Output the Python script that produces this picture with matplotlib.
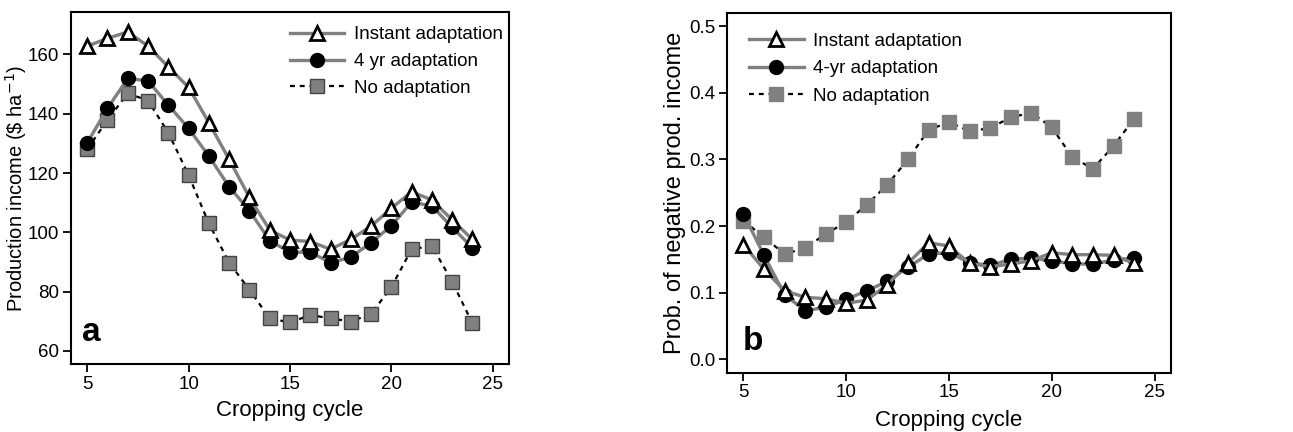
import matplotlib.pyplot as plt

plt.rcParams['font.family'] = ['Liberation Sans', 'DejaVu Sans']

cycles = list(range(5, 25))

# panel a: production income ($/ha)
inc_instant = [162.8, 165.4, 167.6, 162.8, 155.8, 148.9, 137.0, 124.6, 111.8, 100.8,
               97.4, 96.9, 94.3, 97.6, 102.1, 108.1, 113.7, 110.9, 104.2, 97.6]
inc_4yr = [130.2, 141.8, 151.9, 151.1, 142.9, 135.1, 125.7, 115.4, 107.3, 97.2,
           93.3, 93.3, 89.8, 91.6, 96.5, 102.2, 110.2, 108.9, 101.7, 94.8]
inc_none = [128.0, 137.9, 146.9, 144.4, 133.6, 119.3, 103.0, 89.8, 80.6, 71.0,
            69.6, 72.1, 71.0, 69.9, 72.5, 81.5, 94.3, 95.4, 83.4, 69.3]

# panel b: probability of negative production income
prob_instant = [0.172, 0.135, 0.103, 0.093, 0.091, 0.084, 0.089, 0.112, 0.144, 0.175,
                0.170, 0.144, 0.139, 0.143, 0.148, 0.160, 0.157, 0.157, 0.156, 0.144]
prob_4yr = [0.218, 0.156, 0.097, 0.073, 0.078, 0.090, 0.103, 0.117, 0.138, 0.158,
            0.160, 0.145, 0.141, 0.150, 0.152, 0.148, 0.143, 0.143, 0.149, 0.152]
prob_none = [0.208, 0.183, 0.158, 0.167, 0.188, 0.206, 0.232, 0.262, 0.300, 0.344,
             0.356, 0.342, 0.347, 0.363, 0.370, 0.348, 0.303, 0.286, 0.320, 0.361]

GREY = '#808080'

fig = plt.figure(figsize=(12.93, 4.32), dpi=100)
ax_a = fig.add_axes([0.0549, 0.1574, 0.3387, 0.8148])
ax_b = fig.add_axes([0.5623, 0.1373, 0.3434, 0.8333])


def draw(ax, instant, four, none, sq_edge):
    l3, = ax.plot(cycles, none, color='black', lw=1.6, ls=(0, (2.2, 2.2)),
                  marker='s', ms=10, mfc=GREY, mec=sq_edge, mew=1.0, zorder=2)
    l2, = ax.plot(cycles, four, color=GREY, lw=2.4, marker='o', ms=10,
                  mfc='black', mec='black', zorder=3)
    l1, = ax.plot(cycles, instant, color=GREY, lw=2.4, marker='^', ms=10,
                  mfc='white', mec='black', mew=2.0, zorder=4)
    ax.set_xlim(4.2, 25.8)
    ax.set_xticks([5, 10, 15, 20, 25])
    for s in ax.spines.values():
        s.set_linewidth(1.5)
    ax.tick_params(direction='out', length=6, width=1.3, labelsize=13.5, pad=2.5)
    return [l1, l2, l3]


h = draw(ax_a, inc_instant, inc_4yr, inc_none, '#444444')
ax_a.set_ylim(55.6, 174.3)
ax_a.set_yticks([60, 80, 100, 120, 140, 160])
ax_a.set_xlabel('Cropping cycle', fontsize=16, labelpad=5)
ax_a.set_ylabel(r'Production income (\$ ha$^{-1}$)', fontsize=14.5)
ax_a.yaxis.set_label_coords(-0.095, 0.5)
ax_a.legend(h, ['Instant adaptation', '4 yr adaptation', 'No adaptation'],
            loc='upper left', bbox_to_anchor=(0.50, 0.96), frameon=False,
            fontsize=13.5, handlelength=2.9, handletextpad=0.5, labelspacing=0.52,
            borderpad=0, borderaxespad=0)
ax_a.text(0.025, 0.065, 'a', transform=ax_a.transAxes, fontsize=24,
          fontweight='bold')

h = draw(ax_b, prob_instant, prob_4yr, prob_none, GREY)
ax_b.set_ylim(-0.02, 0.52)
ax_b.set_yticks([0.0, 0.1, 0.2, 0.3, 0.4, 0.5])
ax_b.set_yticklabels(['0.0', '0.1', '0.2', '0.3', '0.4', '0.5'])
ax_b.set_xlabel('Cropping cycle', fontsize=16, labelpad=6)
ax_b.set_ylabel('Prob. of negative prod. income', fontsize=17)
ax_b.yaxis.set_label_coords(-0.092, 0.5)
ax_b.legend(h, ['Instant adaptation', '4-yr adaptation', 'No adaptation'],
            loc='upper left', bbox_to_anchor=(0.05, 0.945), frameon=False,
            fontsize=13.5, handlelength=2.9, handletextpad=0.5, labelspacing=0.55,
            borderpad=0, borderaxespad=0)
ax_b.text(0.036, 0.063, 'b', transform=ax_b.transAxes, fontsize=24,
          fontweight='bold')

fig.savefig('out.png', dpi=100)
